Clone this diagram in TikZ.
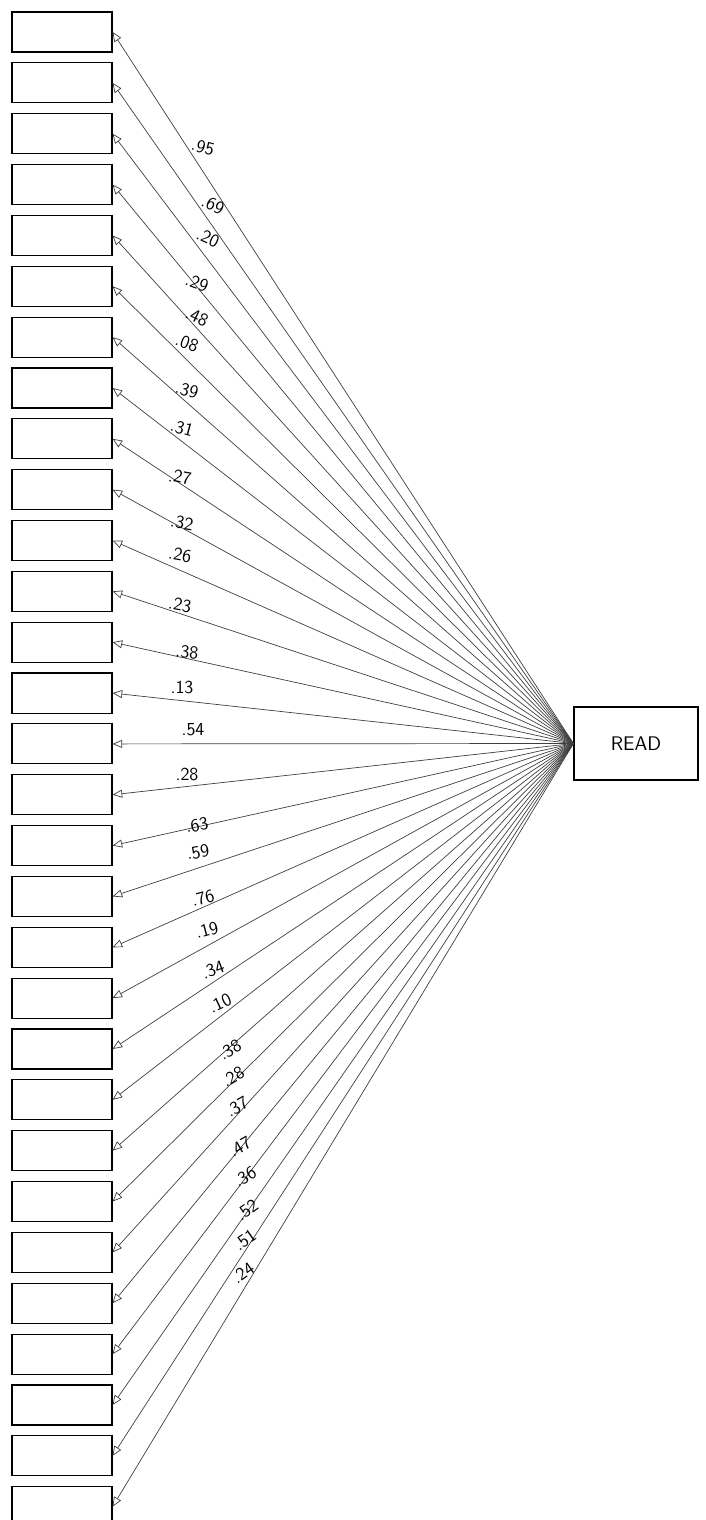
\documentclass[tikz,border=0pt]{standalone}
\usetikzlibrary{arrows.meta}

\begin{document}
\begin{tikzpicture}[
  x=0.025cm, y=-0.025cm,
  font=\sffamily,
  itembox/.style={draw,line width=0.8pt,minimum width=2.5cm,minimum height=1cm,inner sep=0pt},
  readbox/.style={draw,line width=0.8pt,minimum width=3.1cm,minimum height=1.825cm,font=\sffamily\fontsize{14}{16}\selectfont},
  load/.style={-{Triangle[open,length=0.24cm,width=0.2cm]},black!75,line width=0.5pt},
  coef/.style={font=\sffamily\fontsize{13}{15}\selectfont,inner sep=0.5pt},
]
  \useasboundingbox (0,0) rectangle (705,1520);

  \node[readbox] (read) at (636,743.5) {READ};

  % items on the left
  \foreach \i in {1,...,30} {
    \node[itembox] (b\i) at (62,{32+50.85*(\i-1)}) {};
    \draw[load] (read.west) -- (b\i.east);
  }

  % loadings
  \foreach \i/\val/\lx/\ly/\rot in {
    1/.95/203/147/-15, 2/.69/213/205/-25, 3/.20/208/238/-25,
    4/.29/197/283/-20, 5/.48/197/317/-25, 6/.08/187/343/-20,
    7/.39/187/390/-15, 8/.31/182/428/-15, 9/.27/180/477/-10,
    10/.32/182/523/-10, 11/.26/180/555/-10, 12/.23/180/605/-10,
    13/.38/187/652/-5, 14/.13/182/688/0, 15/.54/193/730/0,
    16/.28/187/775/0, 17/.63/197/825/10, 18/.59/198/852/10,
    19/.76/203/898/15, 20/.19/207/930/15, 21/.34/213/970/20,
    22/.10/220/1003/25, 23/.38/230/1050/30, 24/.28/233/1077/30,
    25/.37/237/1107/30, 26/.47/240/1147/30, 27/.36/245/1177/30,
    28/.52/247/1210/35, 29/.51/245/1240/35, 30/.24/243/1273/35} {
    \node[coef,rotate=\rot] (l\i) at (\lx,\ly) {\val};
  }
\end{tikzpicture}
\end{document}
